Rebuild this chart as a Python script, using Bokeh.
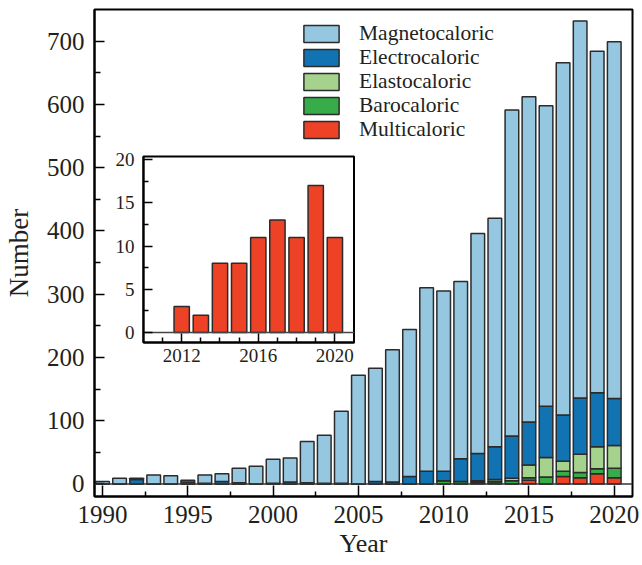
from bokeh.plotting import figure
from bokeh.models import (ColumnDataSource, FixedTicker, Span, Legend, LegendItem,
                          Range1d, LinearAxis, BoxAnnotation)
from bokeh.embed import file_html
from bokeh.resources import INLINE

# ---------------- data ----------------
years = list(range(1990, 2021))
magnetocaloric = [4, 9, 2, 14, 13, 3, 13, 12, 23, 28, 38, 38, 65, 76, 114, 172, 179, 209, 232,
                  290, 285, 280, 348, 361, 515, 514, 475, 557, 596, 540, 564]
electrocaloric = [0, 0, 7, 0, 0, 3, 1, 4, 2, 0, 0, 3, 2, 1, 1, 0, 4, 3, 12,
                  20, 15, 36, 43, 52, 67, 68, 81, 73, 89, 85, 74]
elastocaloric = [0, 0, 0, 0, 0, 0, 0, 0, 0, 0, 0, 0, 0, 0, 0, 0, 0, 0, 0,
                 0, 0, 0, 2, 3, 4, 20, 31, 16, 29, 35, 36]
barocaloric = [0, 0, 0, 0, 0, 0, 0, 0, 0, 0, 1, 0, 0, 0, 0, 0, 0, 0, 0,
               0, 5, 4, 1, 3, 5, 4, 11, 8, 8, 8, 15]
multicaloric = [0, 0, 0, 0, 0, 0, 0, 0, 0, 0, 0, 0, 0, 0, 0, 0, 0, 0, 0,
                0, 0, 0, 2, 1, 0, 6, 0, 12, 10, 16, 10]

inset_years = [2012, 2013, 2014, 2015, 2016, 2017, 2018, 2019, 2020]
inset_multicaloric = [3, 2, 8, 8, 11, 13, 11, 17, 11]

series_names = ["Multicaloric", "Barocaloric", "Elastocaloric", "Electrocaloric", "Magnetocaloric"]
series_colors = ["#ee4227", "#37ad4a", "#a5d38e", "#1273b3", "#95c7e0"]

x_major = [1990, 1995, 2000, 2005, 2010, 2015, 2020]
x_minor = [1992.5, 1997.5, 2002.5, 2007.5, 2012.5, 2017.5]
y_major = [0, 100, 200, 300, 400, 500, 600, 700]
y_minor = [50, 150, 250, 350, 450, 550, 650]

inset_x_major = [2012, 2016, 2020]
inset_x_minor = [2011, 2013, 2014, 2015, 2017, 2018, 2019]
inset_y_major = [0, 5, 10, 15, 20]
inset_y_minor = [2.5, 7.5, 12.5, 17.5]

FONT = "Liberation Serif"
TXT = "#231f20"
EDGE = "#2b2b2b"

# ---------------- geometry (pixels) ----------------
W, H = 642, 565
frame_left, frame_right, frame_top, frame_bottom = 93, 632, 9, 496
inset_left, inset_right, inset_top, inset_bottom = 142, 353, 156, 342

# inset data extent
inset_x_start, inset_x_end = 2010, 2021
inset_y_start, inset_y_end = -1.15, 20.35

# extra ranges that place the inset data box at the inset pixel box
sx = (inset_x_end - inset_x_start) / (inset_right - inset_left)
ix_start = inset_x_start - (inset_left - frame_left) * sx
ix_end = inset_x_end + (frame_right - inset_right) * sx
sy = (inset_y_end - inset_y_start) / (inset_bottom - inset_top)
iy_start = inset_y_start - (frame_bottom - inset_bottom) * sy
iy_end = inset_y_end + (inset_top - frame_top) * sy

# ---------------- main figure ----------------
source = ColumnDataSource(dict(year=years, Magnetocaloric=magnetocaloric,
                               Electrocaloric=electrocaloric, Elastocaloric=elastocaloric,
                               Barocaloric=barocaloric, Multicaloric=multicaloric))

p = figure(width=W, height=H, x_range=(1989.53, 2021.07), y_range=(-19.8, 750),
           output_backend="svg", toolbar_location=None,
           min_border_left=frame_left, min_border_right=W - frame_right,
           min_border_top=frame_top, min_border_bottom=H - frame_bottom)
p.xgrid.visible = False
p.ygrid.visible = False
p.outline_line_color = "black"
p.outline_line_width = 2
p.outline_line_alpha = 1

renderers = p.vbar_stack(series_names, x="year", width=0.8, source=source,
                         fill_color=series_colors, line_color=EDGE, line_width=1.5)

p.add_layout(Span(location=0, dimension="width", line_color="#333333", line_width=1.5))


def style_axis(ax, tick_size, label_size=None):
    ax.axis_line_color = "black"
    ax.axis_line_width = 2
    ax.major_tick_line_color = "black"
    ax.minor_tick_line_color = "black"
    ax.major_tick_line_width = 1.5
    ax.minor_tick_line_width = 1.5
    ax.major_tick_out = 0
    ax.minor_tick_out = 0
    ax.major_label_text_font = FONT
    ax.major_label_text_font_size = tick_size
    ax.major_label_text_color = TXT
    if label_size:
        ax.axis_label_text_font = FONT
        ax.axis_label_text_font_size = label_size
        ax.axis_label_text_font_style = "normal"
        ax.axis_label_text_color = TXT


style_axis(p.xaxis[0], "25px", "26px")
style_axis(p.yaxis[0], "25px", "27px")

p.xaxis.ticker = FixedTicker(ticks=x_major, minor_ticks=x_minor)
p.xaxis.major_tick_in = 11
p.xaxis.minor_tick_in = 5
p.xaxis.major_label_standoff = 9
p.xaxis.axis_label = "Year"
p.xaxis.axis_label_standoff = 3

p.yaxis.ticker = FixedTicker(ticks=y_major, minor_ticks=y_minor)
p.yaxis.major_tick_in = 10
p.yaxis.minor_tick_in = 6
p.yaxis.major_label_standoff = 10
p.yaxis.axis_label = "Number"
p.yaxis.axis_label_standoff = 10

# legend: one single-item legend per row so the row pitch matches
rmap = dict(zip(series_names, renderers))
frame_h = frame_bottom - frame_top
legend_first_top = 21.8
legend_pitch = 24
legend_item_h = 24
for i, name in enumerate(reversed(series_names)):
    top = legend_first_top + legend_pitch * i - frame_top
    lg = Legend(items=[LegendItem(label=name, renderers=[rmap[name]])],
                location=(298 - frame_left, round(frame_h - top - legend_item_h)),
                orientation="vertical",
                glyph_width=44, glyph_height=21, label_height=legend_item_h, spacing=0,
                label_standoff=16, padding=0, margin=0,
                label_text_font=FONT, label_text_font_size="21.5px", label_text_color=TXT,
                border_line_alpha=0, background_fill_alpha=0)
    p.add_layout(lg)

# ---------------- inset (drawn in the same canvas with its own ranges) ----------------
p.extra_x_ranges["ix"] = Range1d(ix_start, ix_end)
p.extra_y_ranges["iy"] = Range1d(iy_start, iy_end)

p.add_layout(BoxAnnotation(left=inset_x_start, right=inset_x_end,
                           bottom=inset_y_start, top=inset_y_end,
                           x_range_name="ix", y_range_name="iy", level="underlay",
                           fill_color="white", fill_alpha=1,
                           line_color="black", line_width=2, line_alpha=1))

inset_source = ColumnDataSource(dict(year=inset_years, value=inset_multicaloric))
p.vbar(x="year", top="value", width=0.8, source=inset_source,
       x_range_name="ix", y_range_name="iy",
       fill_color="#ee4227", line_color=EDGE, line_width=1.5)

p.segment(x0=[inset_x_start], x1=[inset_x_end], y0=[0], y1=[0],
          x_range_name="ix", y_range_name="iy", line_color="#444444", line_width=1.5)

ixaxis = LinearAxis(x_range_name="ix", y_range_name="iy",
                    fixed_location=inset_y_start, bounds=(inset_x_start, inset_x_end),
                    ticker=FixedTicker(ticks=inset_x_major, minor_ticks=inset_x_minor))
style_axis(ixaxis, "19px")
ixaxis.major_tick_in = 9
ixaxis.minor_tick_in = 5
ixaxis.major_label_standoff = 6
p.add_layout(ixaxis, "below")

iyaxis = LinearAxis(x_range_name="ix", y_range_name="iy",
                    fixed_location=inset_x_start, bounds=(inset_y_start, inset_y_end),
                    ticker=FixedTicker(ticks=inset_y_major, minor_ticks=inset_y_minor))
style_axis(iyaxis, "19px")
iyaxis.major_tick_in = 9
iyaxis.minor_tick_in = 5
iyaxis.major_label_standoff = 9
p.add_layout(iyaxis, "left")

open("out.html", "w").write(file_html(p, INLINE))
